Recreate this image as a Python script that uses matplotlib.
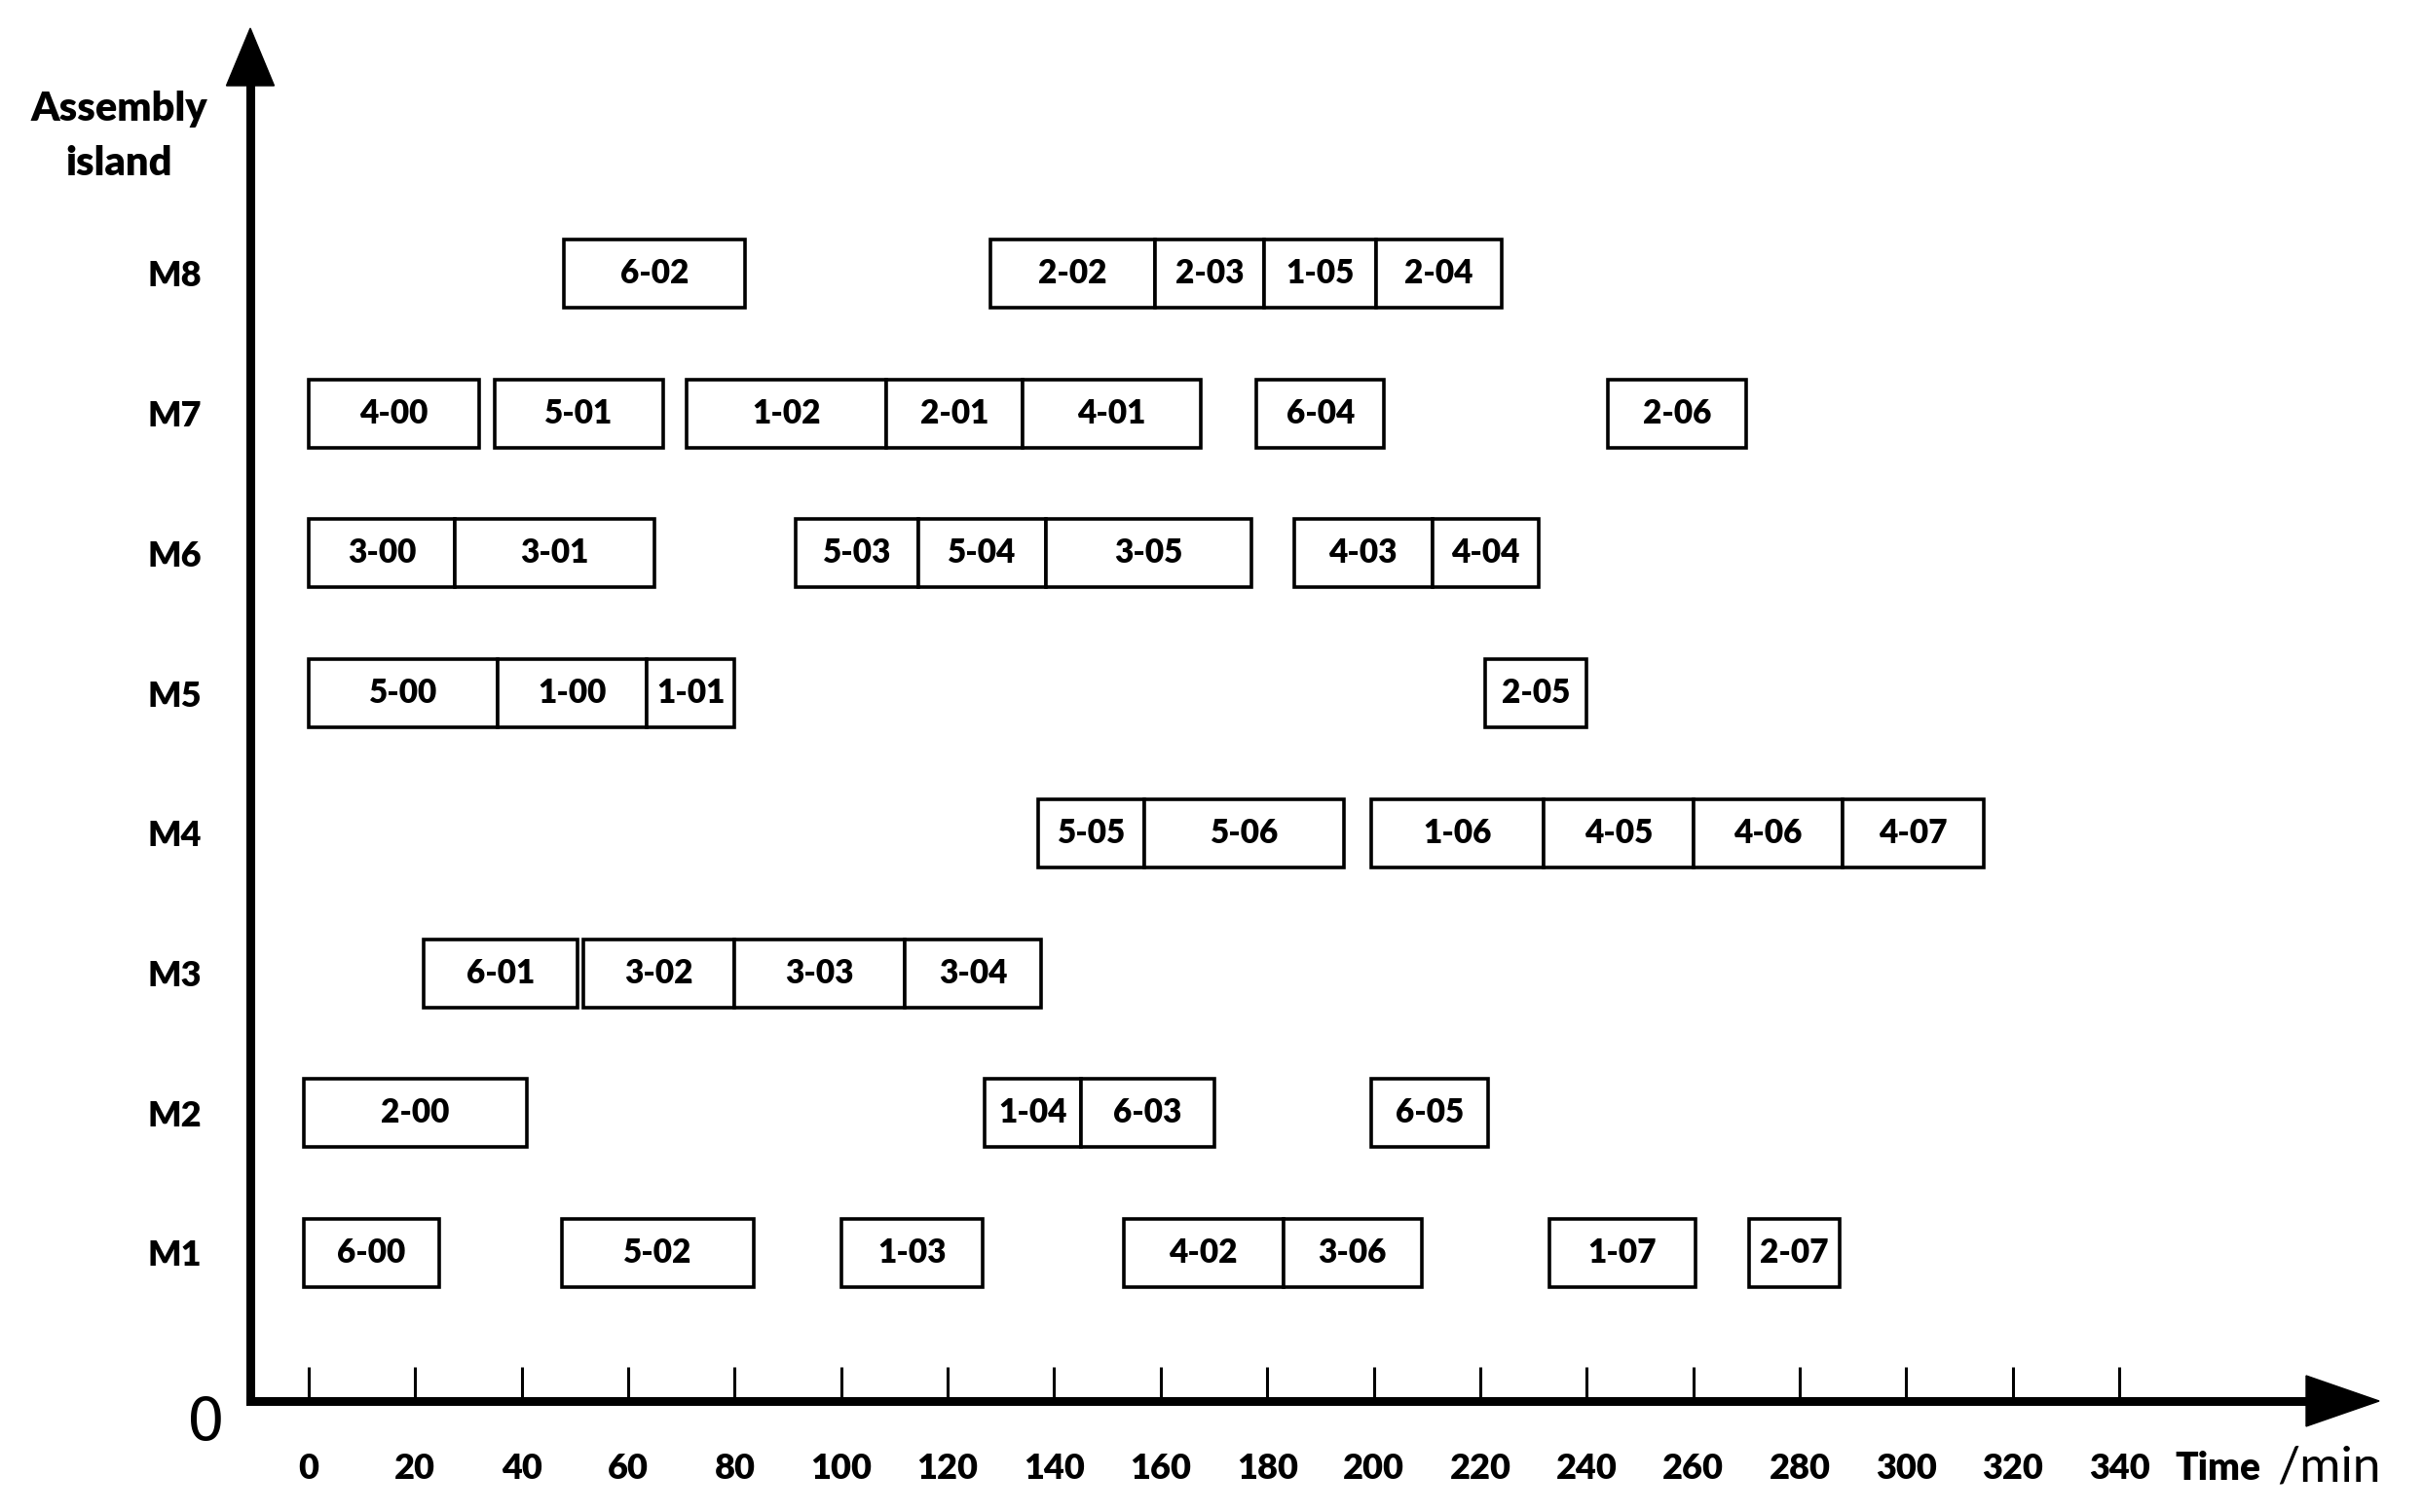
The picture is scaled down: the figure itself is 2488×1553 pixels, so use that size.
import matplotlib
matplotlib.use('agg')

import matplotlib.pyplot as plt

# machine rows, bottom to top
machines = ['M1', 'M2', 'M3', 'M4', 'M5', 'M6', 'M7', 'M8']

# operations per assembly island: label, start (min), end (min)
ops_m1 = [('6-00', -1, 24.5), ('5-02', 47.5, 83.5), ('1-03', 100, 126.5), ('4-02', 153, 183),
          ('3-06', 183, 209), ('1-07', 233, 260.5), ('2-07', 270.5, 287.5)]
ops_m2 = [('2-00', -1, 41), ('1-04', 127, 145), ('6-03', 145, 170), ('6-05', 199.5, 221.5)]
ops_m3 = [('6-01', 21.5, 50.5), ('3-02', 51.5, 80), ('3-03', 80, 112), ('3-04', 112, 137.5)]
ops_m4 = [('5-05', 137, 157), ('5-06', 157, 194.5), ('1-06', 199.5, 232), ('4-05', 232, 260),
          ('4-06', 260, 288), ('4-07', 288, 314.5)]
ops_m5 = [('5-00', 0, 35.5), ('1-00', 35.5, 63.5), ('1-01', 63.5, 80), ('2-05', 221, 240)]
ops_m6 = [('3-00', 0, 27.5), ('3-01', 27.5, 65), ('5-03', 91.5, 114.5), ('5-04', 114.5, 138.5),
          ('3-05', 138.5, 177), ('4-03', 185, 211), ('4-04', 211, 231)]
ops_m7 = [('4-00', 0, 32), ('5-01', 35, 66.5), ('1-02', 71, 108.5), ('2-01', 108.5, 134),
          ('4-01', 134, 167.5), ('6-04', 178, 202), ('2-06', 244, 270)]
ops_m8 = [('6-02', 48, 82), ('2-02', 128, 159), ('2-03', 159, 179.5), ('1-05', 179.5, 200.5),
          ('2-04', 200.5, 224)]
schedule = [ops_m1, ops_m2, ops_m3, ops_m4, ops_m5, ops_m6, ops_m7, ops_m8]

time_ticks = list(range(0, 341, 20))

FONT = 'Lato'
W, H = 2488, 1553
fig = plt.figure(figsize=(W / 100, H / 100), dpi=100)

# axes box in pixels (spines at left=257, bottom=1439 from top)
L, R, T, B = 257, 2368, 88, 1439
ax = fig.add_axes([L / W, 1 - B / H, (R - L) / W, (B - T) / H])

px_per_min = (2176 - 317) / 340.0
ax.set_xlim((L - 317) / px_per_min, (R - 317) / px_per_min)
row_px = (1287 - 281) / 7.0
ax.set_ylim(1 - (B - 1287) / row_px, 8 + (281 - T) / row_px)

bar_h = 70 / row_px
for i, ops in enumerate(schedule):
    y = i + 1
    for lab, s, e in ops:
        ax.barh(y, e - s, left=s, height=bar_h, color='white',
                edgecolor='black', linewidth=2.6, zorder=3)
        fs = 20 if e - s < 10 else 24
        ax.text((s + e) / 2, y, lab, ha='center', va='center', fontsize=fs,
                fontweight='heavy', family=FONT, zorder=4)

for s in ['top', 'right']:
    ax.spines[s].set_visible(False)
for s in ['left', 'bottom']:
    ax.spines[s].set_linewidth(6.5)
    ax.spines[s].set_capstyle('projecting')

ax.set_xticks(time_ticks)
ax.set_xticklabels([str(t) for t in time_ticks], fontsize=26, fontweight='heavy', family=FONT)
ax.tick_params(axis='x', direction='in', length=25, width=2.2, pad=38)
ax.set_yticks(range(1, 9))
ax.set_yticklabels(machines, fontsize=26, fontweight='heavy', family=FONT)
ax.tick_params(axis='y', length=0, pad=36)

# arrow heads
tip_x = 75 / (R - L)
hh = 26 / (B - T)
ax.fill([1, 1 + tip_x, 1], [-hh, 0, hh], color='black', transform=ax.transAxes,
        clip_on=False, zorder=5)
tip_y = 59 / (B - T)
hw = 24.5 / (R - L)
ax.fill([-hw, 0, hw], [1, 1 + tip_y, 1], color='black', transform=ax.transAxes,
        clip_on=False, zorder=5)

fig.text(122 / W, 1 - 140 / H, 'Assembly\nisland', ha='center', va='center',
         fontsize=30, fontweight='heavy', family=FONT, linespacing=1.6)
fig.text(211 / W, 1 - 1463 / H, '0', ha='center', va='center', fontsize=44,
         fontweight='normal', family='DejaVu Sans')
fig.text(2233 / W, 1 - 1520 / H, 'Time', ha='left', va='baseline', fontsize=28,
         fontweight='heavy', family=FONT)
fig.text(2338 / W, 1 - 1522 / H, '/min', ha='left', va='baseline', fontsize=37,
         fontweight='normal', family=FONT)

fig.savefig('out.png', dpi=100)
